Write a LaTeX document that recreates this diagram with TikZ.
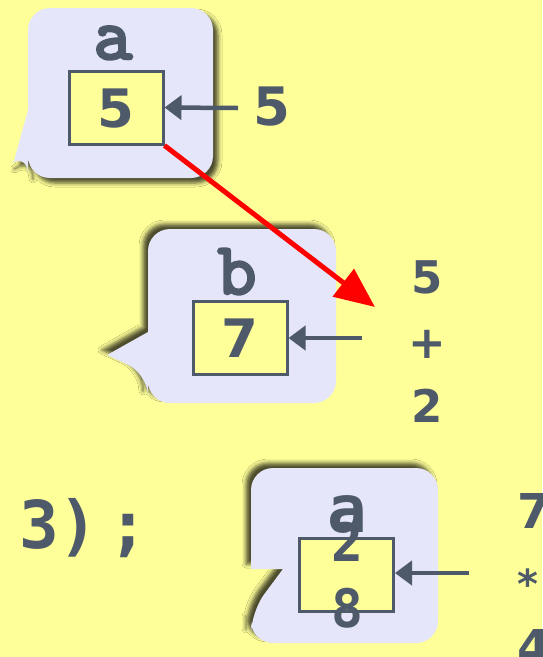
\documentclass[tikz,border=0pt]{standalone}
\usepackage{fontspec}
\usetikzlibrary{arrows.meta,shadows.blur}
\newfontfamily\numfont{DejaVu Sans}
\newfontfamily\monofont{DejaVu Sans Mono}
\newfontfamily\typefont[Extension=.otf, FakeBold=3.5]{lmmono10-regular}
\definecolor{bg}{HTML}{FFFF99}
\definecolor{ink}{HTML}{4E5A6A}
\definecolor{bubblefill}{HTML}{E6E6FA}
\begin{document}
\begin{tikzpicture}[x=1pt,y=-1pt,
  bubble/.style={fill=bubblefill},
  shadowse/.style={blur shadow={shadow xshift=5pt, shadow yshift=-5pt, shadow blur radius=4pt, shadow opacity=70}},
  shadownw/.style={blur shadow={shadow xshift=-5pt, shadow yshift=5pt, shadow blur radius=4pt, shadow opacity=70}},
  valbox/.style={draw=ink, fill=bg, line width=3pt, minimum width=94pt, minimum height=73pt, inner sep=0pt},
  varlbl/.style={anchor=base, inner sep=0pt, text=ink, font=\typefont\fontsize{74}{74}\selectfont},
  numlbl/.style={anchor=base, inner sep=0pt, text=ink, font=\numfont\bfseries\fontsize{53}{53}\selectfont},
  sidelbl/.style={anchor=base, inner sep=0pt, text=ink, font=\numfont\bfseries\fontsize{45}{45}\selectfont},
  farlbl/.style={anchor=base west, inner sep=0pt, text=ink, font=\numfont\bfseries\fontsize{48}{48}\selectfont},
  monolbl/.style={anchor=base, inner sep=0pt, text=ink, font=\monofont\bfseries\fontsize{66}{66}\selectfont},
  mononum/.style={anchor=base, inner sep=0pt, text=ink, font=\monofont\bfseries\fontsize{53}{53}\selectfont},
  assign/.style={draw=ink, line width=4.5pt, -{Triangle[length=17pt,width=24pt]}},
  flow/.style={draw=red, line width=5pt, -{Triangle[length=40pt,width=34pt]}}
]
\fill[bg] (0,0) rectangle (542,657);
\useasboundingbox (0,0) rectangle (542,657);

% bubbles
\path[bubble, shadowse] (28,110) [rounded corners=22pt] -- (28,8) -- (213,8) -- (213,178) -- (28,178) -- (28,152) [sharp corners] -- (14,161) -- cycle;
\path[bubble, shadownw] (148,332) [rounded corners=22pt] -- (148,229) -- (336,229) -- (336,403) -- (148,403) -- (148,374) [sharp corners] -- (107,355) -- cycle;
\path[bubble, shadownw] (251,569) [rounded corners=22pt] -- (251,468) -- (438,468) -- (438,643) -- (251,643) -- (251,612) [sharp corners] -- (283,569) -- cycle;

% value boxes
\node[valbox] (boxa) at (116,107.5) {};
\node[valbox] (boxb) at (240,338) {};
\node[valbox] (boxc) at (346.5,574.5) {};

% labels
\node[varlbl] (namea) at (113,59) {a};
\node[numlbl] (vala) at (116,127) {5};
\node[numlbl] (srca) at (272,125) {5};

\node[varlbl] (nameb) at (237,294) {b};
\node[numlbl] (valb) at (240,357) {7};
\node[sidelbl] (e1) at (427,293) {5};
\node[sidelbl] (e2) at (427,358) {+};
\node[sidelbl] (e3) at (427,422) {2};

\node[monolbl, anchor=base west] (code) at (19,548) {3)\kern10pt;};
\node[monolbl] (namec) at (347,532) {a};
\node[mononum] (valc1) at (347,561) {2};
\node[mononum] (valc2) at (347,627) {8};
\node[farlbl] (f1) at (517,528) {7};
\node[farlbl, font=\numfont\bfseries\fontsize{40}{40}\selectfont] (f2) at (517,598) {*};
\node[farlbl] (f3) at (517,664) {4};

% arrows
\coordinate (froma) at (238,108);
\coordinate (fromb) at (362,338);
\coordinate (fromc) at (469,573);
\coordinate (redtip) at (375,307);
\draw[assign] (froma) -- (boxa.east);
\draw[assign] (fromb) -- (boxb.east);
\draw[assign] (fromc) -- (boxc.east |- fromc);
\draw[flow] (boxa.south east) -- (redtip);
\end{tikzpicture}
\end{document}
